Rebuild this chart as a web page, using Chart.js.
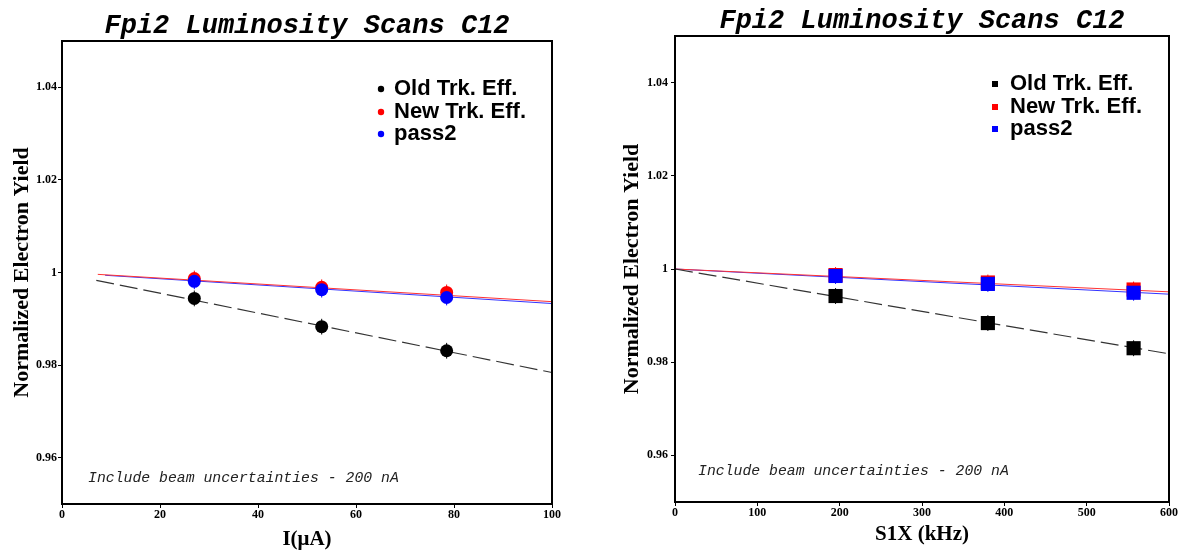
<!DOCTYPE html>
<html lang="en">
<head>
<meta charset="UTF-8">
<title>Fpi2 Luminosity Scans C12</title>
<script src="https://cdn.jsdelivr.net/npm/chart.js"></script>
<style>
  body { margin: 0; background: #fff; }
  .panel { position: absolute; top: 0; height: 550px; }
</style>
</head>
<body>
<div class="panel" style="left:0;width:590px;"><canvas id="left-chart" width="590" height="550"></canvas></div>
<div class="panel" style="left:590px;width:589px;"><canvas id="right-chart" width="589" height="550"></canvas></div>

<script>
// ---- data ----
const yTicks = [0.96, 0.98, 1, 1.02, 1.04];
const yTickLabels = ['0.96', '0.98', '1', '1.02', '1.04'];
const legendNames = ['Old Trk. Eff.', 'New Trk. Eff.', 'pass2'];
const noteText = 'Include beam uncertainties - 200 nA';

// left: current scan
const curX = [27, 53, 78.5];
const curOld = [0.9944, 0.9883, 0.9831];
const curNew = [0.9987, 0.9968, 0.9957];
const curPass2 = [0.9981, 0.9963, 0.9946];
const curErr = [0.0017, 0.0017, 0.0017];
const curOldFitX = [7, 100];
const curOldFit = [0.9983, 0.9784];
const curNewFitX = [7.3, 100];
const curNewFit = [0.9996, 0.9937];
const curPassFitX = [8.8, 100];
const curPassFit = [0.9994, 0.9933];

// right: S1X rate scan
const rateX = [195, 380, 557];
const rateOld = [0.9942, 0.9884, 0.9830];
const rateNew = [0.9987, 0.9971, 0.9956];
const ratePass2 = [0.9985, 0.9968, 0.9949];
const rateErr = [0.0017, 0.0017, 0.0017];
const rateFitX = [0, 600];
const rateOldFit = [1.0, 0.9818];
const rateNewFit = [1.0, 0.9951];
const ratePassFit = [1.0, 0.9946];

const colors = ['#000000', '#ff0000', '#0000ff'];

function pts(xs, ys) { return xs.map((x, i) => ({x: x, y: ys[i]})); }

// error bars, box around plot, legend and note
const extras = {
  id: 'extras',
  beforeDatasetsDraw(chart) {
    const ctx = chart.ctx, ys = chart.scales.y;
    chart.data.datasets.forEach(ds => {
      if (!ds.err) return;
      ctx.save();
      ctx.strokeStyle = ds.backgroundColor;
      ctx.lineWidth = 1;
      ds.data.forEach((p, i) => {
        const px = chart.scales.x.getPixelForValue(p.x);
        ctx.beginPath();
        ctx.moveTo(px, ys.getPixelForValue(p.y + ds.err[i]));
        ctx.lineTo(px, ys.getPixelForValue(p.y - ds.err[i]));
        ctx.stroke();
      });
      ctx.restore();
    });
  },
  afterDraw(chart, args, opts) {
    const ctx = chart.ctx, a = chart.chartArea;
    ctx.save();
    ctx.strokeStyle = '#000';
    ctx.lineWidth = 2;
    ctx.strokeRect(a.left, a.top, a.right - a.left, a.bottom - a.top);

    ctx.font = 'bold 22px "Liberation Sans", Arial, sans-serif';
    ctx.textBaseline = 'middle';
    legendNames.forEach((name, i) => {
      const y = opts.legendY[i];
      ctx.fillStyle = colors[i];
      if (opts.square) {
        ctx.fillRect(opts.markX - 3, y - 3, 6, 6);
      } else {
        ctx.beginPath();
        ctx.arc(opts.markX, y, 3.2, 0, Math.PI * 2);
        ctx.fill();
      }
      ctx.fillStyle = '#000';
      ctx.fillText(name, opts.textX, y);
    });

    ctx.font = 'italic 14.8px "Liberation Mono", "Courier New", monospace';
    ctx.fillStyle = '#222';
    ctx.fillText(noteText, opts.noteX, opts.noteY);
    ctx.restore();
  }
};

function makeChart(id, c) {
  // lower order is drawn on top: blue over red over black, all over the fit lines
  const pointDs = (label, xs, ys, i) => ({
    type: 'scatter', label: label, data: pts(xs, ys), err: c.err,
    backgroundColor: colors[i], borderColor: colors[i], order: 2 - i,
    pointStyle: c.square ? 'rect' : 'circle',
    pointRadius: c.square ? 10 : 6.5, pointBorderWidth: 0, showLine: false
  });
  const fitDs = (xs, ys, color, dash, w) => ({
    type: 'line', data: pts(xs, ys), borderColor: color, borderWidth: w,
    borderDash: dash, pointRadius: 0, fill: false, order: 5
  });

  return new Chart(document.getElementById(id), {
    type: 'scatter',
    data: {
      datasets: [
        fitDs(c.oldFitX, c.oldFit, '#333333', [18, 6], 1.2),
        fitDs(c.newFitX, c.newFit, '#ff3333', [], 1),
        fitDs(c.passFitX, c.passFit, '#3333ff', [], 1),
        pointDs(legendNames[0], c.x, c.old, 0),
        pointDs(legendNames[1], c.x, c.nw, 1),
        pointDs(legendNames[2], c.x, c.pass, 2)
      ]
    },
    options: {
      responsive: false,
      animation: false,
      layout: { padding: { left: 0, right: c.padRight, top: 0, bottom: 0 } },
      plugins: {
        legend: { display: false },
        tooltip: { enabled: false },
        title: {
          display: true,
          text: 'Fpi2 Luminosity Scans C12',
          fullSize: false,
          color: '#000',
          font: { family: '"Liberation Mono", "Courier New", monospace', size: 27, weight: 'bold', style: 'italic', lineHeight: 1 },
          padding: { top: c.titleTop, bottom: c.titleBottom }
        },
        extras: c.extras
      },
      scales: {
        x: {
          type: 'linear', min: c.xMin, max: c.xMax,
          ticks: { stepSize: c.xStep, color: '#000', padding: 0,
            font: { family: '"Liberation Serif", "Times New Roman", serif', size: 12, weight: 'bold' } },
          grid: { drawOnChartArea: false, tickLength: 4, color: '#000' },
          border: { display: true, color: '#000', width: 2 },
          title: { display: true, text: c.xTitle, color: '#000',
            font: { family: '"Liberation Serif", "Times New Roman", serif', size: 21, weight: 'bold', lineHeight: 1 },
            padding: { top: 0, bottom: c.xTitlePad } },
          afterFit(s) { s.height = c.xAxisH; }
        },
        y: {
          type: 'linear', min: 0.95, max: 1.05,
          afterBuildTicks(s) { s.ticks = yTicks.map(v => ({value: v})); },
          ticks: { color: '#000', padding: c.yTickPad,
            callback: (v) => yTickLabels[yTicks.findIndex(t => Math.abs(t - v) < 1e-9)],
            font: { family: '"Liberation Serif", "Times New Roman", serif', size: 12, weight: 'bold' } },
          grid: { drawOnChartArea: false, tickLength: 4, color: '#000' },
          border: { display: true, color: '#000', width: 2 },
          title: { display: true, text: 'Normalized Electron Yield', color: '#000',
            font: { family: '"Liberation Serif", "Times New Roman", serif', size: 22, weight: 'bold', lineHeight: 1 },
            padding: { top: c.yTitlePad, bottom: 0 } },
          afterFit(s) { s.width = c.yAxisW; }
        }
      }
    },
    plugins: [extras]
  });
}

makeChart('left-chart', {
  x: curX, old: curOld, nw: curNew, pass: curPass2, err: curErr,
  oldFitX: curOldFitX, oldFit: curOldFit,
  newFitX: curNewFitX, newFit: curNewFit,
  passFitX: curPassFitX, passFit: curPassFit,
  square: false, xMin: 0, xMax: 100, xStep: 20, xTitle: 'I(\u03bcA)',
  padRight: 38, titleTop: 13, titleBottom: 1, xAxisH: 46, xTitlePad: 0,
  yAxisW: 62, yTickPad: 1, yTitlePad: 11,
  extras: { markX: 381, textX: 394, legendY: [89, 112, 134], noteX: 88, noteY: 478 }
});

makeChart('right-chart', {
  x: rateX, old: rateOld, nw: rateNew, pass: ratePass2, err: rateErr,
  oldFitX: rateFitX, oldFit: rateOldFit,
  newFitX: rateFitX, newFit: rateNewFit,
  passFitX: rateFitX, passFit: ratePassFit,
  square: true, xMin: 0, xMax: 600, xStep: 100, xTitle: 'S1X (kHz)',
  padRight: 9, titleTop: 8, titleBottom: 1, xAxisH: 48, xTitlePad: 5,
  yAxisW: 85, yTickPad: 3, yTitlePad: 31,
  extras: { markX: 405, textX: 420, legendY: [84, 107, 129], noteX: 108, noteY: 471, square: true }
});
</script>
</body>
</html>
